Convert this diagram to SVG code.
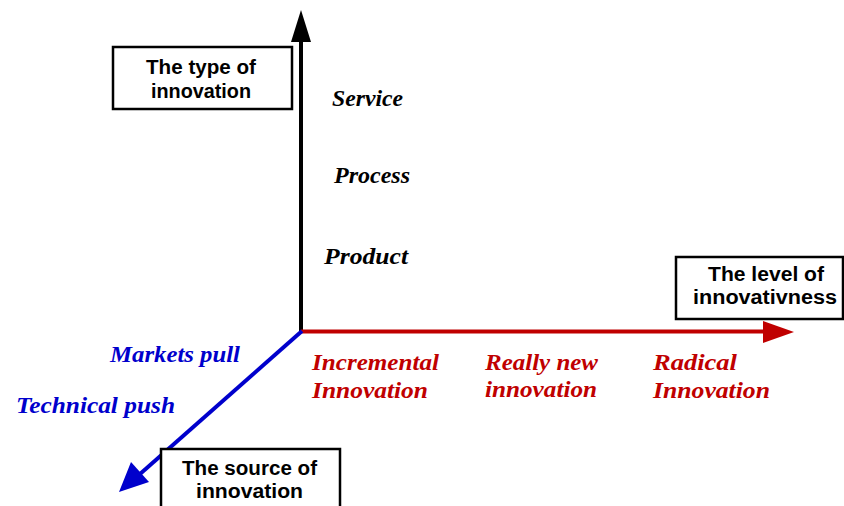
<svg xmlns="http://www.w3.org/2000/svg" width="844" height="506" viewBox="0 0 844 506">
<style>
.box{fill:#fff;stroke:#000;stroke-width:2.5}
.bt{font-family:"Liberation Sans",Arial,sans-serif;font-weight:bold;font-size:19.5px;fill:#000}
.ax{font-family:"Liberation Serif","Times New Roman",serif;font-weight:bold;font-style:italic;font-size:23px}
.k{fill:#000}.r{fill:#c00000}.b{fill:#0000cc}
</style>
<rect width="844" height="506" fill="#fff"/>
<g id="connectors">
<line x1="301" y1="333" x2="301" y2="40" stroke="#000" stroke-width="4"/>
<polygon points="301,10 291,42 311,42" fill="#000"/>
<line x1="301" y1="331.5" x2="765" y2="331.5" stroke="#c00000" stroke-width="4"/>
<polygon points="794,332 763,321 763,343" fill="#c00000"/>
<line x1="302" y1="331" x2="140" y2="474" stroke="#0000cc" stroke-width="4"/>
<polygon points="119,492 131,462 149,482" fill="#0000cc"/>
</g>
<g id="type-box">
<rect class="box" x="113" y="47" width="179" height="62"/>
<text class="bt" x="146" y="74" textLength="110" lengthAdjust="spacingAndGlyphs">The type of</text>
<text class="bt" x="151" y="98" textLength="100" lengthAdjust="spacingAndGlyphs">innovation</text>
</g>
<g id="level-box">
<rect class="box" x="676" y="257" width="167" height="62"/>
<text class="bt" x="708" y="281" textLength="116" lengthAdjust="spacingAndGlyphs">The level of</text>
<text class="bt" x="693" y="304" textLength="144" lengthAdjust="spacingAndGlyphs">innovativness</text>
</g>
<g id="source-box">
<rect class="box" x="161" y="449" width="179" height="70"/>
<text class="bt" x="182" y="475" textLength="135" lengthAdjust="spacingAndGlyphs">The source of</text>
<text class="bt" x="196" y="498" textLength="107" lengthAdjust="spacingAndGlyphs">innovation</text>
</g>
<g id="type-labels">
<text class="ax k" x="332" y="106" textLength="71" lengthAdjust="spacingAndGlyphs">Service</text>
<text class="ax k" x="334" y="183" textLength="76" lengthAdjust="spacingAndGlyphs">Process</text>
<text class="ax k" x="324" y="264" textLength="84" lengthAdjust="spacingAndGlyphs">Product</text>
</g>
<g id="level-labels">
<text class="ax r" x="312" y="370" textLength="127" lengthAdjust="spacingAndGlyphs">Incremental</text>
<text class="ax r" x="312" y="398" textLength="116" lengthAdjust="spacingAndGlyphs">Innovation</text>
<text class="ax r" x="485" y="370" textLength="113" lengthAdjust="spacingAndGlyphs">Really new</text>
<text class="ax r" x="485" y="397" textLength="112" lengthAdjust="spacingAndGlyphs">innovation</text>
<text class="ax r" x="653" y="370" textLength="84" lengthAdjust="spacingAndGlyphs">Radical</text>
<text class="ax r" x="653" y="398" textLength="117" lengthAdjust="spacingAndGlyphs">Innovation</text>
</g>
<g id="source-labels">
<text class="ax b" x="110" y="362" textLength="130" lengthAdjust="spacingAndGlyphs">Markets pull</text>
<text class="ax b" x="16" y="413" textLength="159" lengthAdjust="spacingAndGlyphs">Technical push</text>
</g>
</svg>
